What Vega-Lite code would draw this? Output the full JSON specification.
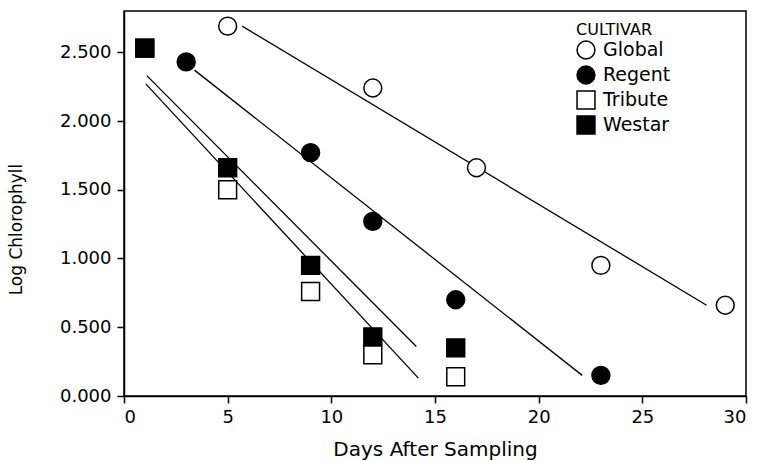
{
  "$schema": "https://vega.github.io/schema/vega-lite/v6.json",
  "width": 622,
  "height": 385,
  "autosize": "none",
  "padding": {"left": 124, "top": 11, "right": 14, "bottom": 65},
  "background": "white",
  "config": {
    "font": "DejaVu Sans",
    "view": {"stroke": "black", "strokeWidth": 1.5},
    "axis": {
      "domainColor": "black", "domainWidth": 1.5, "tickColor": "black", "tickWidth": 1.5,
      "labelColor": "black", "titleColor": "black", "labelFontSize": 18, "titleFontSize": 20,
      "titleFontWeight": "normal", "grid": false
    },
    "legend": {
      "titleFontSize": 16, "titleFontWeight": "normal", "titleColor": "black", "titlePadding": 2,
      "labelFontSize": 19, "labelColor": "black", "symbolSize": 320, "symbolStrokeColor": "black",
      "symbolStrokeWidth": 1.5, "rowPadding": 1, "labelOffset": 7
    }
  },
  "datasets": {
    "obs": [
      {"cultivar": "Global", "day": 5, "chl": 2.69},
      {"cultivar": "Global", "day": 12, "chl": 2.24},
      {"cultivar": "Global", "day": 17, "chl": 1.66},
      {"cultivar": "Global", "day": 23, "chl": 0.95},
      {"cultivar": "Global", "day": 29, "chl": 0.66},
      {"cultivar": "Regent", "day": 3, "chl": 2.43},
      {"cultivar": "Regent", "day": 9, "chl": 1.77},
      {"cultivar": "Regent", "day": 12, "chl": 1.27},
      {"cultivar": "Regent", "day": 16, "chl": 0.70},
      {"cultivar": "Regent", "day": 23, "chl": 0.15},
      {"cultivar": "Tribute", "day": 1, "chl": 2.53},
      {"cultivar": "Tribute", "day": 5, "chl": 1.50},
      {"cultivar": "Tribute", "day": 9, "chl": 0.76},
      {"cultivar": "Tribute", "day": 12, "chl": 0.30},
      {"cultivar": "Tribute", "day": 16, "chl": 0.14},
      {"cultivar": "Westar", "day": 1, "chl": 2.53},
      {"cultivar": "Westar", "day": 5, "chl": 1.66},
      {"cultivar": "Westar", "day": 9, "chl": 0.95},
      {"cultivar": "Westar", "day": 12, "chl": 0.43},
      {"cultivar": "Westar", "day": 16, "chl": 0.35}
    ],
    "fits": [
      {"cultivar": "Global", "day": 5.7, "chl": 2.69},
      {"cultivar": "Global", "day": 28.1, "chl": 0.66},
      {"cultivar": "Regent", "day": 3.4, "chl": 2.37},
      {"cultivar": "Regent", "day": 22.1, "chl": 0.15},
      {"cultivar": "Westar", "day": 1.1, "chl": 2.33},
      {"cultivar": "Westar", "day": 14.1, "chl": 0.36},
      {"cultivar": "Tribute", "day": 1.05, "chl": 2.27},
      {"cultivar": "Tribute", "day": 14.2, "chl": 0.13}
    ]
  },
  "layer": [
    {
      "data": {"name": "fits"},
      "mark": {"type": "line", "color": "black", "strokeWidth": 1.3},
      "encoding": {
        "x": {"field": "day", "type": "quantitative"},
        "y": {"field": "chl", "type": "quantitative"},
        "detail": {"field": "cultivar"}
      }
    },
    {
      "data": {"name": "obs"},
      "mark": {"type": "point", "filled": true, "opacity": 1, "strokeWidth": 1.5, "size": 320},
      "encoding": {
        "x": {
          "field": "day", "type": "quantitative", "title": "Days After Sampling",
          "scale": {"domain": [0, 30], "nice": false},
          "axis": {"values": [0, 5, 10, 15, 20, 25, 30], "tickSize": 7, "labelPadding": 5, "titlePadding": 13}
        },
        "y": {
          "field": "chl", "type": "quantitative", "title": "Log Chlorophyll",
          "scale": {"domain": [0, 2.8], "nice": false},
          "axis": {"values": [0, 0.5, 1, 1.5, 2, 2.5], "format": ".3f", "tickSize": 7, "labelPadding": 6, "titlePadding": 34, "titleFontSize": 17, "titleY": 218}
        },
        "shape": {
          "field": "cultivar", "type": "nominal", "title": "CULTIVAR",
          "scale": {"domain": ["Global", "Regent", "Tribute", "Westar"], "range": ["circle", "circle", "square", "square"]},
          "legend": {"orient": "none", "legendX": 452, "legendY": 11}
        },
        "fill": {
          "field": "cultivar", "type": "nominal", "title": "CULTIVAR",
          "scale": {"domain": ["Global", "Regent", "Tribute", "Westar"], "range": ["white", "black", "white", "black"]},
          "legend": {"orient": "none", "legendX": 452, "legendY": 11}
        },
        "stroke": {
          "field": "cultivar", "type": "nominal", "title": "CULTIVAR",
          "scale": {"domain": ["Global", "Regent", "Tribute", "Westar"], "range": ["black", "black", "black", "black"]},
          "legend": {"orient": "none", "legendX": 452, "legendY": 11}
        },
        "order": {"field": "cultivar", "sort": "ascending"}
      }
    }
  ]
}
